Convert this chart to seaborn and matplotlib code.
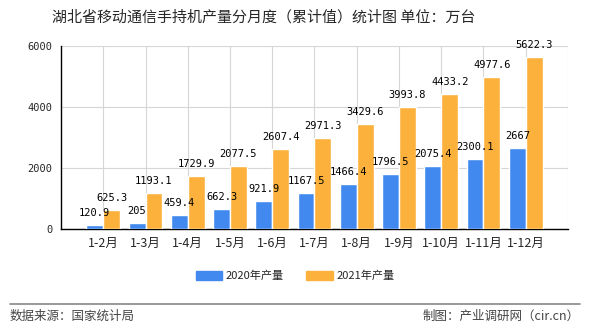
import matplotlib
matplotlib.use("Agg")
import matplotlib.pyplot as plt
import seaborn as sns
import pandas as pd
from matplotlib.lines import Line2D

categories = ["1-2月", "1-3月", "1-4月", "1-5月", "1-6月", "1-7月", "1-8月", "1-9月", "1-10月", "1-11月", "1-12月"]
values_2020 = [120.9, 205, 459.4, 662.3, 921.9, 1167.5, 1466.4, 1796.5, 2075.4, 2300.1, 2667]
values_2021 = [625.3, 1193.1, 1729.9, 2077.5, 2607.4, 2971.3, 3429.6, 3993.8, 4433.2, 4977.6, 5622.3]
series_names = ["2020年产量", "2021年产量"]
y_ticks = [0, 2000, 4000, 6000]

title = "湖北省移动通信手持机产量分月度（累计值）统计图 单位：万台"
source_text = "数据来源：国家统计局"
maker_text = "制图：产业调研网（cir.cn）"

df = pd.DataFrame({
    "month": categories * 2,
    "value": values_2020 + values_2021,
    "series": [series_names[0]] * len(categories) + [series_names[1]] * len(categories),
})

sns.set_style("white")
plt.rcParams["font.family"] = ["DejaVu Sans", "Noto Sans CJK SC"]
cjk = ["Noto Sans CJK SC", "DejaVu Sans"]

fig = plt.figure(figsize=(5.9, 3.3), dpi=100)
ax = fig.add_axes([0.1034, 0.306, 0.8593, 0.555])

palette = {series_names[0]: "#4189EE", series_names[1]: "#FBB13C"}
sns.barplot(data=df, x="month", y="value", hue="series", palette=palette,
            order=categories, hue_order=series_names, width=0.8, dodge=True,
            saturation=1, ax=ax, legend=False, zorder=3)

ax.set_xlim(-1, len(categories))
ax.set_ylim(0, 6000)
ax.set_yticks(y_ticks)
ax.set_yticklabels([str(t) for t in y_ticks], fontsize=7.5, family="DejaVu Sans Mono")
ax.set_xticks(list(range(len(categories))) + [len(categories)])
ax.set_xticklabels(categories + [""], fontsize=9, family=cjk)
ax.set_xlabel("")
ax.set_ylabel("")

ax.grid(True, color="#d6d6d6", linewidth=0.8, zorder=0)
ax.set_axisbelow(True)
for s in ["top", "right"]:
    ax.spines[s].set_visible(False)
for s in ["left", "bottom"]:
    ax.spines[s].set_color("black")
    ax.spines[s].set_linewidth(1)
ax.tick_params(axis="both", direction="out", length=4, width=1, color="black", pad=2)

for cont, vals in zip(ax.containers, [values_2020, values_2021]):
    labels = [("%g" % v) for v in vals]
    ax.bar_label(cont, labels=labels, padding=5, fontsize=7.5, family="DejaVu Sans Mono", color="black")

handles = [plt.Rectangle((0, 0), 1, 1, color=palette[n]) for n in series_names]
fig.legend(handles, series_names, loc="center", bbox_to_anchor=(0.5, 1 - 276 / 330), ncol=2,
           frameon=False, prop={"family": cjk, "size": 8}, handlelength=2.4, handleheight=0.9,
           columnspacing=2.0, handletextpad=0.3)

fig.text(0.447, 1 - 17 / 330, title, ha="center", va="center", fontsize=10.8, family=cjk)

fig.add_artist(Line2D([10 / 590, 580 / 590], [1 - 304 / 330, 1 - 304 / 330], color="#888888", linewidth=1.2))
fig.text(10 / 590, 1 - 316 / 330, source_text, ha="left", va="center", fontsize=9, family=cjk, color="#444444")
fig.text(580 / 590, 1 - 316 / 330, maker_text, ha="right", va="center", fontsize=9, family=cjk, color="#444444")

fig.savefig("out.png", dpi=100)
